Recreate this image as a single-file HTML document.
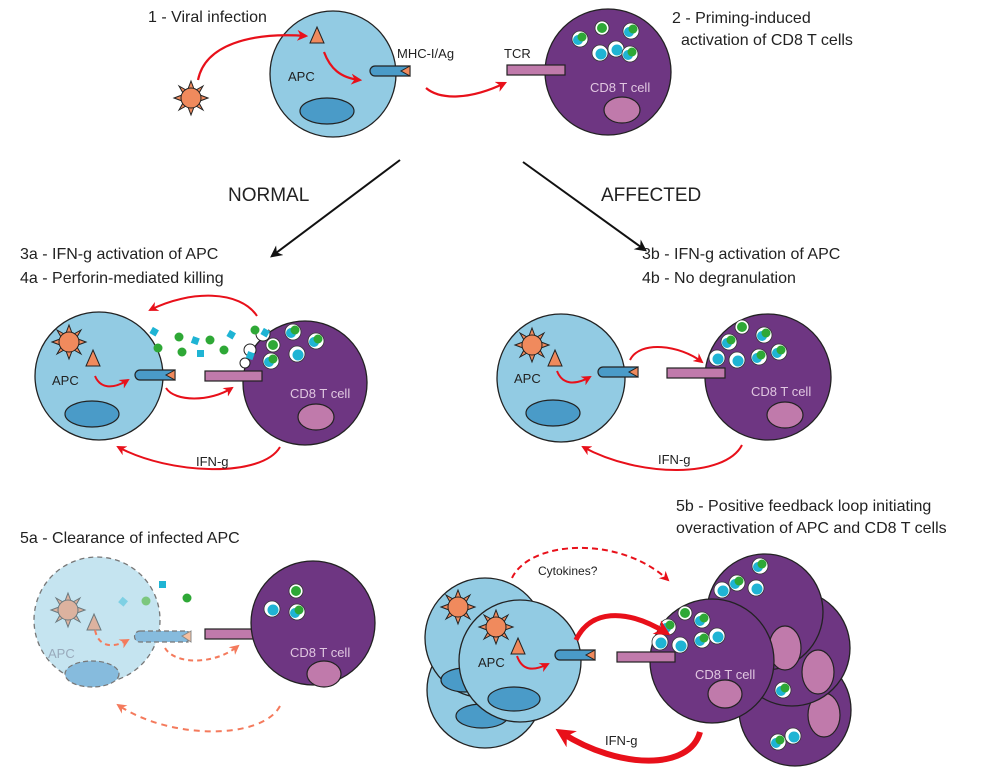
<!DOCTYPE html>
<html><head><meta charset="utf-8"><style>
html,body{margin:0;padding:0;background:#fff;width:1000px;height:770px;overflow:hidden}
svg{display:block;font-family:"Liberation Sans",sans-serif}
</style></head><body>
<svg width="1000" height="770" viewBox="0 0 1000 770" xmlns="http://www.w3.org/2000/svg">
<defs>
<marker id="ar" viewBox="0 0 10 10" refX="8" refY="5" markerWidth="5" markerHeight="5" orient="auto"><path d="M0,0 L10,5 L0,10 L3,5z" fill="#e8101a"/></marker>
<marker id="arf" viewBox="0 0 10 10" refX="8" refY="5" markerWidth="5" markerHeight="5" orient="auto"><path d="M0,0 L10,5 L0,10 L3,5z" fill="#f47a5c"/></marker>
<marker id="ark" viewBox="0 0 10 10" refX="8" refY="5" markerWidth="6" markerHeight="6" orient="auto"><path d="M0,0 L10,5 L0,10 L3,5z" fill="#111"/></marker>
<marker id="arb" viewBox="0 0 10 10" refX="6" refY="5" markerWidth="3.2" markerHeight="3.2" orient="auto"><path d="M0,0 L10,5 L0,10 L3,5z" fill="#e8101a"/></marker>
<g id="virus">
<g fill="#f08a5d" stroke="#222" stroke-width="1">
<path d="M0,-17 L3,-9 L-3,-9z"/><path d="M0,17 L3,9 L-3,9z"/><path d="M-17,0 L-9,3 L-9,-3z"/><path d="M17,0 L9,3 L9,-3z"/>
<path d="M12,-12 L5,-8 L8,-5z"/><path d="M-12,-12 L-5,-8 L-8,-5z"/><path d="M12,12 L5,8 L8,5z"/><path d="M-12,12 L-5,8 L-8,5z"/>
<circle r="10"/></g></g>
<g id="tri"><path d="M0,-10 L7,6 L-7,6z" fill="#f08a5d" stroke="#222" stroke-width="1"/></g>
<g id="rod"><path d="M5,0 H40 V10 H5 A5,5 0 0 1 5,0z" fill="#4a9bc8" stroke="#222" stroke-width="1.2"/><path d="M40,0 L31,5 L40,10z" fill="#f08a5d" stroke="#222" stroke-width="1"/></g>
<g id="gr"><circle r="8" fill="#fff" stroke="#333" stroke-width="0.8"/><circle cx="-2" cy="1" r="5" fill="#1fb4d4"/><circle cx="2" cy="-2" r="4.5" fill="#2ea836"/></g>
<g id="gr2"><circle r="7" fill="#fff" stroke="#333" stroke-width="0.8"/><circle cx="0" cy="0" r="5" fill="#2ea836"/></g>
<g id="gr3"><circle r="8" fill="#fff" stroke="#333" stroke-width="0.8"/><circle cx="1" cy="1" r="5.5" fill="#1fb4d4"/></g>
</defs>

<!-- TOP -->
<text x="148" y="22" font-size="16" fill="#222">1 - Viral infection</text>
<text x="672" y="23" font-size="16" fill="#222">2 - Priming-induced</text>
<text x="681" y="45" font-size="16" fill="#222">activation of CD8 T cells</text>
<circle cx="333" cy="74" r="63" fill="#92cbe3" stroke="#222" stroke-width="1.3"/>
<ellipse cx="327" cy="111" rx="27" ry="13" fill="#4a9bc8" stroke="#222" stroke-width="1.2"/>
<use href="#tri" x="317" y="37"/>
<text x="288" y="81" font-size="13" fill="#222">APC</text>
<use href="#rod" x="370" y="66"/>
<text x="397" y="58" font-size="13" fill="#222">MHC-I/Ag</text>
<text x="504" y="58" font-size="13" fill="#222">TCR</text>
<use href="#virus" x="191" y="98"/>
<path d="M198,80 C205,45 250,32 306,36" fill="none" stroke="#e8101a" stroke-width="2.2" marker-end="url(#ar)"/>
<path d="M324,52 C330,68 340,78 360,80" fill="none" stroke="#e8101a" stroke-width="2.2" marker-end="url(#ar)"/>
<path d="M426,88 C440,100 470,100 505,83" fill="none" stroke="#e8101a" stroke-width="2.2" marker-end="url(#ar)"/>
<circle cx="608" cy="72" r="63" fill="#6e3682" stroke="#222" stroke-width="1.3"/>
<rect x="507" y="65" width="58" height="10" fill="#c07aab" stroke="#222" stroke-width="1.2"/>
<ellipse cx="622" cy="110" rx="18" ry="13" fill="#c07aab" stroke="#222" stroke-width="1.2"/>
<text x="590" y="92" font-size="13" fill="#e0c6e0">CD8 T cell</text>
<use href="#gr" x="580" y="39"/><use href="#gr2" x="602" y="28"/><use href="#gr" x="631" y="31"/>
<use href="#gr3" x="600" y="53"/><use href="#gr3" x="616" y="49"/><use href="#gr" x="630" y="54"/>

<line x1="400" y1="160" x2="272" y2="256" stroke="#111" stroke-width="2" marker-end="url(#ark)"/>
<line x1="523" y1="162" x2="645" y2="250" stroke="#111" stroke-width="2" marker-end="url(#ark)"/>
<text x="228" y="201" font-size="19" fill="#222">NORMAL</text>
<text x="601" y="201" font-size="19" fill="#222">AFFECTED</text>

<!-- MIDDLE LEFT -->
<text x="20" y="259" font-size="16" fill="#222">3a - IFN-g activation of APC</text>
<text x="20" y="283" font-size="16" fill="#222">4a - Perforin-mediated killing</text>
<circle cx="99" cy="376" r="64" fill="#92cbe3" stroke="#222" stroke-width="1.3"/>
<ellipse cx="92" cy="414" rx="27" ry="13" fill="#4a9bc8" stroke="#222" stroke-width="1.2"/>
<use href="#virus" x="69" y="342"/><use href="#tri" x="93" y="360"/>
<text x="52" y="385" font-size="13" fill="#222">APC</text>
<use href="#rod" x="135" y="370"/>
<path d="M95,376 C100,388 112,390 128,380" fill="none" stroke="#e8101a" stroke-width="2" marker-end="url(#ar)"/>
<circle cx="305" cy="383" r="62" fill="#6e3682" stroke="#222" stroke-width="1.3"/>
<circle cx="263" cy="334" r="7" fill="#fff" stroke="#222" stroke-width="1"/>
<circle cx="250" cy="350" r="6" fill="#fff" stroke="#222" stroke-width="1"/>
<circle cx="245" cy="363" r="5" fill="#fff" stroke="#222" stroke-width="1"/>
<circle cx="262" cy="327" r="7" fill="#fff"/>
<rect x="205" y="371" width="57" height="10" fill="#c07aab" stroke="#222" stroke-width="1.2"/>
<ellipse cx="316" cy="417" rx="18" ry="13" fill="#c07aab" stroke="#222" stroke-width="1.2"/>
<text x="290" y="398" font-size="13" fill="#e0c6e0">CD8 T cell</text>
<use href="#gr" x="293" y="332"/><use href="#gr" x="316" y="341"/><use href="#gr2" x="273" y="345"/><use href="#gr3" x="297" y="354"/><use href="#gr" x="271" y="361"/>
<g fill="#2ea836"><circle cx="158" cy="348" r="4.5"/><circle cx="179" cy="337" r="4.5"/><circle cx="182" cy="352" r="4.5"/><circle cx="210" cy="340" r="4.5"/><circle cx="224" cy="350" r="4.5"/><circle cx="255" cy="330" r="4.5"/></g>
<g fill="#1fb4d4"><rect x="151" y="328" width="7" height="7" transform="rotate(30 154 331)"/><rect x="192" y="337" width="7" height="7" transform="rotate(20 195 340)"/><rect x="197" y="350" width="7" height="7"/><rect x="228" y="331" width="7" height="7" transform="rotate(30 231 334)"/><rect x="247" y="352" width="7" height="7" transform="rotate(20 250 355)"/><rect x="262" y="329" width="7" height="7" transform="rotate(30 265 332)"/></g>
<path d="M257,316 C240,290 190,290 150,310" fill="none" stroke="#e8101a" stroke-width="2" marker-end="url(#ar)"/>
<path d="M166,388 C175,402 210,402 232,388" fill="none" stroke="#e8101a" stroke-width="2" marker-end="url(#ar)"/>
<path d="M280,447 C262,478 170,475 118,447" fill="none" stroke="#e8101a" stroke-width="2" marker-end="url(#ar)"/>
<text x="196" y="466" font-size="13" fill="#222">IFN-g</text>

<!-- MIDDLE RIGHT -->
<text x="642" y="259" font-size="16" fill="#222">3b - IFN-g activation of APC</text>
<text x="642" y="283" font-size="16" fill="#222">4b - No degranulation</text>
<circle cx="561" cy="378" r="64" fill="#92cbe3" stroke="#222" stroke-width="1.3"/>
<ellipse cx="553" cy="413" rx="27" ry="13" fill="#4a9bc8" stroke="#222" stroke-width="1.2"/>
<use href="#virus" x="532" y="345"/><use href="#tri" x="555" y="360"/>
<text x="514" y="383" font-size="13" fill="#222">APC</text>
<use href="#rod" x="598" y="367"/>
<path d="M557,371 C562,384 574,386 590,377" fill="none" stroke="#e8101a" stroke-width="2" marker-end="url(#ar)"/>
<circle cx="768" cy="377" r="63" fill="#6e3682" stroke="#222" stroke-width="1.3"/>
<rect x="667" y="368" width="58" height="10" fill="#c07aab" stroke="#222" stroke-width="1.2"/>
<ellipse cx="785" cy="415" rx="18" ry="13" fill="#c07aab" stroke="#222" stroke-width="1.2"/>
<text x="751" y="396" font-size="13" fill="#e0c6e0">CD8 T cell</text>
<use href="#gr2" x="742" y="327"/><use href="#gr" x="729" y="342"/><use href="#gr" x="764" y="335"/><use href="#gr" x="779" y="352"/>
<use href="#gr3" x="717" y="358"/><use href="#gr3" x="737" y="360"/><use href="#gr" x="759" y="357"/>
<path d="M630,360 C640,340 680,345 702,362" fill="none" stroke="#e8101a" stroke-width="2" marker-end="url(#ar)"/>
<path d="M742,445 C725,478 640,478 583,447" fill="none" stroke="#e8101a" stroke-width="2" marker-end="url(#ar)"/>
<text x="658" y="464" font-size="13" fill="#222">IFN-g</text>

<!-- BOTTOM LEFT -->
<text x="20" y="543" font-size="16" fill="#222">5a - Clearance of infected APC</text>
<circle cx="97" cy="620" r="63" fill="#c5e4f0" stroke="#777" stroke-width="1.3" stroke-dasharray="5,4"/>
<ellipse cx="92" cy="674" rx="27" ry="13" fill="#86bbdd" stroke="#777" stroke-width="1.2" stroke-dasharray="5,3"/>
<g opacity="0.55"><use href="#virus" x="68" y="610"/><use href="#tri" x="94" y="624"/></g>
<text x="48" y="658" font-size="13" fill="#9ab">APC</text>
<path d="M140,631 H188 V642 H140 A5.5,5.5 0 0 1 140,631z" fill="#86bbdd" stroke="#777" stroke-width="1.2" stroke-dasharray="5,3"/>
<path d="M191,631 L182,636 L191,642z" fill="#f6c0a0" stroke="#888" stroke-width="1"/>
<rect x="205" y="629" width="58" height="10" fill="#c07aab" stroke="#222" stroke-width="1.2"/>
<circle cx="313" cy="623" r="62" fill="#6e3682" stroke="#222" stroke-width="1.3"/>
<ellipse cx="324" cy="674" rx="17" ry="13" fill="#c07aab" stroke="#222" stroke-width="1.2"/>
<text x="290" y="657" font-size="13" fill="#e0c6e0">CD8 T cell</text>
<use href="#gr2" x="296" y="591"/><use href="#gr3" x="272" y="609"/><use href="#gr" x="297" y="612"/>
<rect x="120" y="598" width="7" height="7" fill="#7ed0e4" transform="rotate(40 123 601)"/>
<rect x="159" y="581" width="7" height="7" fill="#1fb4d4"/>
<circle cx="146" cy="601" r="4.5" fill="#7cc77e"/><circle cx="187" cy="598" r="4.5" fill="#2ea836"/>
<path d="M95,630 C98,645 110,650 128,640" fill="none" stroke="#f47a5c" stroke-width="2" stroke-dasharray="5,4" marker-end="url(#arf)"/>
<path d="M165,648 C175,665 215,665 238,646" fill="none" stroke="#f47a5c" stroke-width="2" stroke-dasharray="5,4" marker-end="url(#arf)"/>
<path d="M280,706 C262,740 170,740 118,705" fill="none" stroke="#f47a5c" stroke-width="2" stroke-dasharray="6,5" marker-end="url(#arf)"/>

<!-- BOTTOM RIGHT -->
<text x="676" y="511" font-size="16" fill="#222">5b - Positive feedback loop initiating</text>
<text x="676" y="533" font-size="16" fill="#222">overactivation of APC and CD8 T cells</text>
<circle cx="485" cy="690" r="58" fill="#92cbe3" stroke="#222" stroke-width="1.3"/>
<ellipse cx="482" cy="716" rx="26" ry="12" fill="#4a9bc8" stroke="#222" stroke-width="1.2"/>
<circle cx="485" cy="638" r="60" fill="#92cbe3" stroke="#222" stroke-width="1.3"/>
<ellipse cx="465" cy="680" rx="24" ry="12" fill="#4a9bc8" stroke="#222" stroke-width="1.2"/>
<use href="#virus" x="458" y="607"/>
<circle cx="520" cy="661" r="61" fill="#92cbe3" stroke="#222" stroke-width="1.3"/>
<ellipse cx="514" cy="699" rx="26" ry="12" fill="#4a9bc8" stroke="#222" stroke-width="1.2"/>
<use href="#virus" x="496" y="627"/><use href="#tri" x="518" y="648"/>
<text x="478" y="667" font-size="13" fill="#222">APC</text>
<use href="#rod" x="555" y="650"/>
<path d="M517,656 C522,670 532,672 548,664" fill="none" stroke="#e8101a" stroke-width="2" marker-end="url(#ar)"/>

<circle cx="795" cy="710" r="56" fill="#6e3682" stroke="#222" stroke-width="1.3"/>
<ellipse cx="824" cy="715" rx="16" ry="22" fill="#c07aab" stroke="#222" stroke-width="1.2"/>
<use href="#gr" x="778" y="742"/><use href="#gr3" x="793" y="736"/>
<circle cx="792" cy="648" r="58" fill="#6e3682" stroke="#222" stroke-width="1.3"/>
<ellipse cx="818" cy="672" rx="16" ry="22" fill="#c07aab" stroke="#222" stroke-width="1.2"/>
<use href="#gr" x="783" y="690"/>
<circle cx="765" cy="612" r="58" fill="#6e3682" stroke="#222" stroke-width="1.3"/>
<ellipse cx="785" cy="648" rx="16" ry="22" fill="#c07aab" stroke="#222" stroke-width="1.2"/>
<use href="#gr" x="760" y="566"/><use href="#gr" x="737" y="583"/><use href="#gr3" x="756" y="588"/><use href="#gr3" x="722" y="590"/>
<circle cx="712" cy="661" r="62" fill="#6e3682" stroke="#222" stroke-width="1.3"/>
<ellipse cx="725" cy="694" rx="17" ry="14" fill="#c07aab" stroke="#222" stroke-width="1.2"/>
<text x="695" y="679" font-size="13" fill="#e0c6e0">CD8 T cell</text>
<use href="#gr2" x="685" y="613"/><use href="#gr" x="702" y="620"/><use href="#gr" x="668" y="627"/>
<use href="#gr3" x="660" y="642"/><use href="#gr3" x="680" y="645"/><use href="#gr" x="702" y="640"/><use href="#gr3" x="717" y="636"/>
<rect x="617" y="652" width="58" height="10" fill="#c07aab" stroke="#222" stroke-width="1.2"/>

<path d="M576,640 C590,610 625,608 665,632" fill="none" stroke="#e8101a" stroke-width="5" marker-end="url(#arb)"/>
<path d="M700,732 C690,770 620,770 562,733" fill="none" stroke="#e8101a" stroke-width="6" marker-end="url(#arb)"/>
<text x="605" y="745" font-size="13" fill="#222">IFN-g</text>
<path d="M512,578 C530,540 620,535 668,580" fill="none" stroke="#e8101a" stroke-width="2" stroke-dasharray="6,4" marker-end="url(#ar)"/>
<text x="538" y="575" font-size="12" fill="#222">Cytokines?</text>
</svg>
</body></html>
